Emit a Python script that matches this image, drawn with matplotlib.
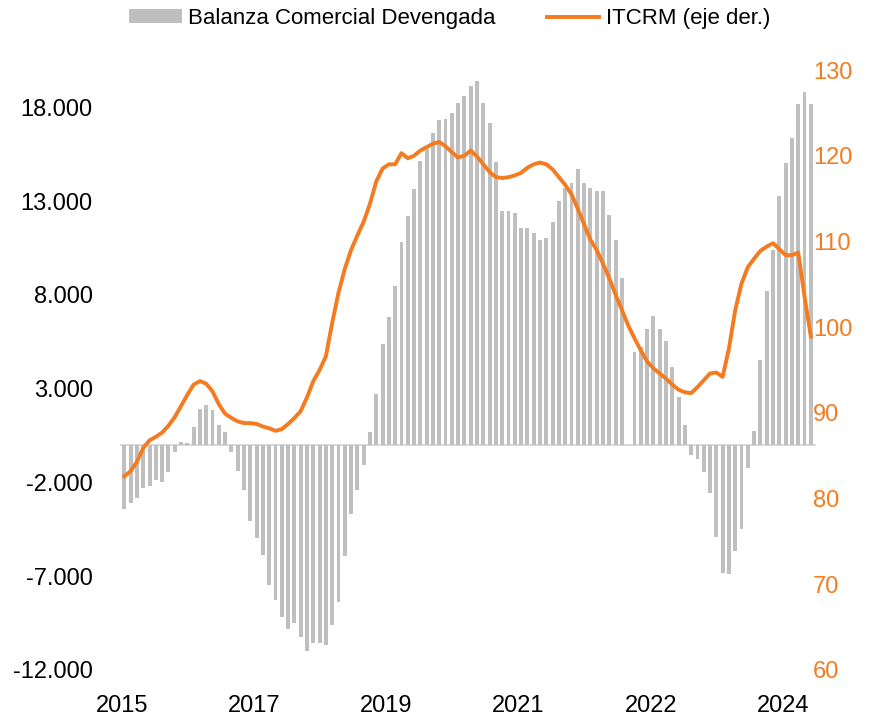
import numpy as np
import matplotlib.pyplot as plt
from matplotlib.ticker import FuncFormatter

plt.rcParams['font.family'] = ['Liberation Sans', 'DejaVu Sans']

# Balanza comercial devengada (monthly bars, left axis)
balanza = [
    -3400, -3110, -2810, -2280, -2190, -1890, -1980, -1445, -380, 150,
    110, 950, 1940, 2150, 1890, 1090, 680, -400, -1390, -2400,
    -4050, -4970, -5860, -7460, -8290, -9180, -9810, -9500, -10260, -11000,
    -10560, -10580, -10650, -9620, -8370, -5900, -3700, -2400, -1070, 700,
    2740, 5400, 6820, 8500, 10810, 12220, 13640, 15150, 15770, 16620,
    17330, 17400, 17720, 18220, 18610, 19140, 19400, 18260, 17200, 15100,
    12490, 12500, 12370, 11550, 11550, 11300, 10950, 11020, 11900, 12990,
    13730, 13980, 14710, 13950, 13680, 13550, 13530, 12240, 10930, 8890,
    0, 4980, 5220, 6160, 6900, 6160, 5550, 4160, 2540, 1050,
    -540, -750, -1430, -2580, -4900, -6840, -6890, -5680, -4480, -1210,
    770, 4510, 8230, 10400, 13290, 15030, 16360, 18200, 18820, 18200,
]

# ITCRM (right axis)
itcrm = [
    82.6, 83.2, 84.3, 85.9, 86.8, 87.2, 87.7, 88.5, 89.5, 90.8,
    92.1, 93.3, 93.7, 93.4, 92.5, 91.0, 89.9, 89.4, 89.0, 88.8,
    88.8, 88.7, 88.4, 88.2, 87.9, 88.1, 88.7, 89.4, 90.2, 91.8,
    93.7, 95.0, 96.6, 100.5, 104.0, 106.8, 109.0, 110.7, 112.3, 114.4,
    117.0, 118.5, 119.0, 119.0, 120.3, 119.7, 120.0, 120.6, 121.0, 121.4,
    121.6, 121.1, 120.4, 119.8, 120.0, 120.6, 119.9, 119.0, 118.1, 117.5,
    117.4, 117.5, 117.7, 118.0, 118.6, 119.0, 119.2, 119.0, 118.4, 117.5,
    116.6, 115.5, 113.8, 112.0, 110.2, 109.0, 107.4, 105.7, 103.8, 102.0,
    100.2, 98.7, 97.3, 96.0, 95.2, 94.6, 94.0, 93.3, 92.7, 92.4,
    92.3, 93.0, 93.8, 94.6, 94.7, 94.2, 97.5, 102.0, 105.1, 107.0,
    108.0, 108.9, 109.4, 109.8, 109.1, 108.4, 108.4, 108.7, 103.6, 98.9,
]

year_labels = ['2015', '2017', '2019', '2021', '2022', '2024']

bar_color = '#bfbfbf'
line_color = '#f47b20'

x = np.arange(len(balanza))

fig = plt.figure(figsize=(8.82, 7.18), dpi=100)
ax = fig.add_axes([0.136, 0.0669, 0.789, 0.8356])
ax2 = ax.twinx()

ax.bar(x, balanza, width=0.62, color=bar_color, label='Balanza Comercial Devengada', zorder=2)
ax.axhline(0, color='#d9d9d9', lw=1.5, zorder=1)
ax2.plot(x, itcrm, color=line_color, lw=2.8, label='ITCRM (eje der.)')

ax.set_xlim(-0.7, len(balanza) - 0.2)
ax.set_ylim(-12000, 20000)
ax.set_yticks(np.arange(-12000, 18001, 5000))
ax.yaxis.set_major_formatter(FuncFormatter(lambda v, p: f'{v:,.0f}'.replace(',', '.')))
ax2.set_ylim(60, 130)
ax2.set_yticks(np.arange(60, 131, 10))

ax.set_xticks(np.arange(len(year_labels)) * 21 - 0.4)
ax.set_xticklabels(year_labels)

for a in (ax, ax2):
    for s in a.spines.values():
        s.set_visible(False)
    a.tick_params(length=0)

ax.tick_params(axis='y', labelsize=17, pad=19.5, colors='black')
ax.tick_params(axis='x', labelsize=17, pad=18)
ax2.tick_params(axis='y', labelsize=17, pad=-2, labelcolor=line_color)

handles = [ax.patches[0], ax2.lines[0]]
fig.legend(handles, ['Balanza Comercial Devengada', 'ITCRM (eje der.)'],
           loc='center', bbox_to_anchor=(0.51, 0.974), ncol=2, frameon=False,
           fontsize=16, handlelength=2.35, handleheight=0.6,
           handletextpad=0.3, columnspacing=2.3)

fig.savefig('out.png', dpi=100)
